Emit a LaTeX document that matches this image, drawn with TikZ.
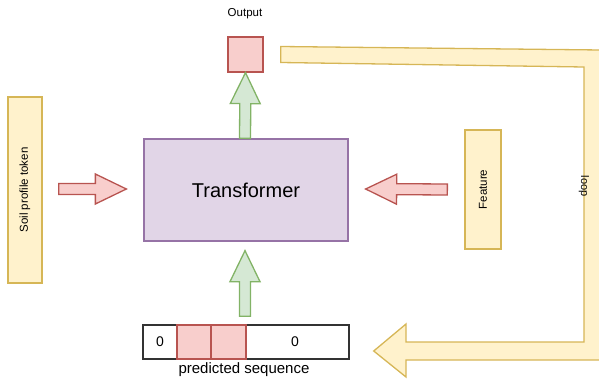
\documentclass[tikz,border=0pt]{standalone}
\usepackage{fontspec}
\setmainfont{Liberation Sans}
\usepackage{tikz}
\usetikzlibrary{calc}
\definecolor{yelfill}{HTML}{FFF2CC}
\definecolor{yeldraw}{HTML}{D6B656}
\definecolor{redfill}{HTML}{F8CECC}
\definecolor{reddraw}{HTML}{B85450}
\definecolor{grnfill}{HTML}{D5E8D4}
\definecolor{grndraw}{HTML}{82B366}
\definecolor{purfill}{HTML}{E1D5E7}
\definecolor{purdraw}{HTML}{9673A6}
\tikzstyle{yelbox} = [draw=yeldraw, fill=yelfill, line width=1.3pt,
    rectangle, inner sep=0pt]
\tikzstyle{redcell} = [draw=reddraw, fill=redfill, line width=1.3pt,
    rectangle, inner sep=0pt]
\tikzstyle{tfbox} = [draw=purdraw, fill=purfill, line width=1.3pt,
    rectangle, inner sep=0pt, font=\fontsize{20}{24}\selectfont]
\tikzstyle{seqbox} = [draw=black!80, line width=1.4pt, rectangle, inner sep=0pt]
\tikzstyle{smalltext} = [font=\fontsize{11.5}{13}\selectfont]
\tikzstyle{redarr} = [draw=reddraw, fill=redfill, line width=1.3pt, line join=miter]
\tikzstyle{grnarr} = [draw=grndraw, fill=grnfill, line width=1.3pt, line join=miter]
\tikzstyle{loopflow} = [draw=yeldraw, fill=yelfill, line width=1.3pt, line join=miter]
% block arrow: style, from, tip
\newcommand{\blockarrow}[3]{%
    \path (#3) coordinate (tip) ($(#3)!31pt!(#2)$) coordinate (base);
    \draw[#1] ($(#2)!5.5pt!90:(tip)$) -- ($(base)!5.5pt!90:(tip)$)
        -- ($(base)!15pt!90:(tip)$) -- (tip)
        -- ($(base)!15pt!-90:(tip)$) -- ($(base)!5.5pt!-90:(tip)$)
        -- ($(#2)!5.5pt!-90:(tip)$) -- cycle;
}

\begin{document}
\begin{tikzpicture}[x=1pt, y=-1pt]
    \useasboundingbox (0,0) rectangle (599,385);

    \node [tfbox, minimum width=204pt, minimum height=102pt] (trans) at (246,190) {Transformer};
    \node [redcell, minimum size=35pt] (out) at (245.5,54.5) {};
    \node [smalltext] (outlbl) at (245,14) {Output};
    \node [yelbox, minimum width=34pt, minimum height=186pt] (soil) at (25,190) {};
    \node [smalltext, rotate=90] at (soil.center) {Soil profile token};
    \node [yelbox, minimum width=36pt, minimum height=119pt] (feat) at (483,189.5) {};
    \node [smalltext, rotate=90] at (feat.center) {Feature};

    % predicted sequence
    \node [seqbox, minimum width=206pt, minimum height=34pt] (seq) at (246,342) {};
    \node [redcell, minimum width=34pt, minimum height=34pt] (cellA) at (194,342) {};
    \node [redcell, minimum width=35pt, minimum height=34pt] (cellB) at (228.5,342) {};
    \node [font=\fontsize{14}{16}\selectfont] (zeroA) at (160,342) {0};
    \node [font=\fontsize{14}{16}\selectfont] (zeroB) at (295,342) {0};
    \node [font=\fontsize{15}{17}\selectfont] (seqlbl) at (244,370) {predicted sequence};

    % arrows
    \coordinate (l0) at ($(soil.east)+(16,-1)$);
    \coordinate (l1) at ($(trans.west)+(-17,-1)$);
    \blockarrow{redarr}{l0}{l1}
    \coordinate (r0) at ($(feat.west)+(-17,0)$);
    \coordinate (r1) at ($(trans.east)+(17,-1)$);
    \blockarrow{redarr}{r0}{r1}
    \coordinate (u0) at ($(trans.north)+(-1,0)$);
    \coordinate (u1) at (out.south);
    \blockarrow{grnarr}{u0}{u1}
    \coordinate (d0) at ($(seq.north)+(-1,-8)$);
    \coordinate (d1) at ($(trans.south)+(-1,9)$);
    \blockarrow{grnarr}{d0}{d1}

    % loop back
    \coordinate (lstart) at ($(out.east)+(17,0)$);
    \coordinate (lend) at ($(seq.east)+(24,9)$);
    \draw[loopflow] ($(lstart)+(0,-8)$) -- (601,50) -- (601,360) -- (406,360)
        -- (406,377) -- (lend) -- (406,324) -- (406,342) -- (584,342)
        -- (584,67) -- ($(lstart)+(0,8)$) -- cycle;
    \node [font=\fontsize{11}{13}\selectfont, rotate=-90] (looplbl) at (584,186) {loop};
\end{tikzpicture}
\end{document}
